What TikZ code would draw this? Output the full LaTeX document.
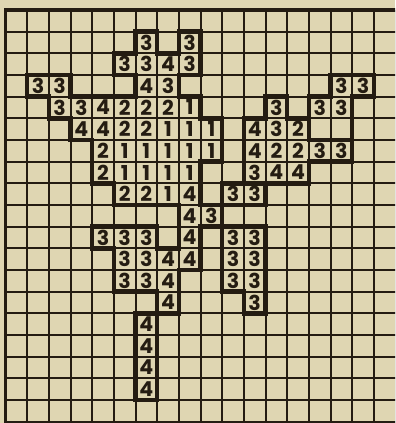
\documentclass[tikz,border=0pt]{standalone}
\usepackage{fontspec}
\newfontfamily\numfont{Poppins}
\definecolor{paper}{RGB}{223,214,178}
\definecolor{ink}{RGB}{36,28,18}
\begin{document}
\begin{tikzpicture}[yscale=-1, x=1cm, y=1cm,
  gridline/.style={ink, line width=2.6pt},
  border/.style={ink, line width=4.5pt},
  outline/.style={ink, line width=5.8pt, line join=miter, line cap=rect},
  num/.style={font=\numfont\bfseries\fontsize{27}{27}\selectfont, text=ink, inner sep=0pt}]
\fill[paper] (-0.254,-0.46) rectangle (17.975,19.06);
\useasboundingbox (-0.254,-0.46) rectangle (17.975,19.06);
\begin{scope}
\clip (-0.254,-0.46) rectangle (17.975,19.06);
\foreach \x in {1,...,18} \draw[gridline] (\x,0) -- (\x,19.2);
\foreach \y in {1,...,19} \draw[gridline] (0,\y) -- (18.2,\y);
\draw[border] (0,19.2) -- (0,0) -- (18.2,0);
% outlines
\draw[outline] (6,1) -- (7,1) -- (7,2) -- (8,2) -- (8,1) -- (9,1) -- (9,3) -- (8,3) -- (8,4) -- (9,4) -- (9,5) -- (10,5) -- (10,7) -- (9,7) -- (9,9) -- (10,9) -- (10,10) -- (9,10) -- (9,12) -- (8,12) -- (8,14) -- (7,14) -- (7,18) -- (6,18) -- (6,14) -- (7,14) -- (7,13) -- (5,13) -- (5,11) -- (4,11) -- (4,10) -- (7,10) -- (7,11) -- (8,11) -- (8,9) -- (5,9) -- (5,8) -- (4,8) -- (4,6) -- (3,6) -- (3,5) -- (2,5) -- (2,4) -- (1,4) -- (1,3) -- (3,3) -- (3,4) -- (6,4) -- (6,3) -- (5,3) -- (5,2) -- (6,2) -- cycle;
\draw[outline] (15,3) -- (17,3) -- (17,4) -- (16,4) -- (16,7) -- (14,7) -- (14,8) -- (11,8) -- (11,5) -- (12,5) -- (12,4) -- (13,4) -- (13,5) -- (14,5) -- (14,4) -- (15,4) -- cycle;
\draw[outline] (14,5) -- (14,6) -- (16,6);
\draw[outline] (10,8) rectangle (12,9);
\draw[outline] (10,10) -- (12,10) -- (12,14) -- (11,14) -- (11,13) -- (10,13) -- cycle;
\end{scope}
% numbers
\foreach \c/\r/\d in {6/1/3, 8/1/3,
  5/2/3, 6/2/3, 7/2/4, 8/2/3,
  1/3/3, 2/3/3, 6/3/4, 7/3/3, 15/3/3, 16/3/3,
  2/4/3, 3/4/3, 4/4/4, 5/4/2, 6/4/2, 7/4/2, 8/4/1, 12/4/3, 14/4/3, 15/4/3,
  3/5/4, 4/5/4, 5/5/2, 6/5/2, 7/5/1, 8/5/1, 9/5/1, 11/5/4, 12/5/3, 13/5/2,
  4/6/2, 5/6/1, 6/6/1, 7/6/1, 8/6/1, 9/6/1, 11/6/4, 12/6/2, 13/6/2, 14/6/3, 15/6/3,
  4/7/2, 5/7/1, 6/7/1, 7/7/1, 8/7/1, 11/7/3, 12/7/4, 13/7/4,
  5/8/2, 6/8/2, 7/8/1, 8/8/4, 10/8/3, 11/8/3,
  8/9/4, 9/9/3,
  4/10/3, 5/10/3, 6/10/3, 8/10/4, 10/10/3, 11/10/3,
  5/11/3, 6/11/3, 7/11/4, 8/11/4, 10/11/3, 11/11/3,
  5/12/3, 6/12/3, 7/12/4, 10/12/3, 11/12/3,
  7/13/4, 11/13/3,
  6/14/4, 6/15/4, 6/16/4, 6/17/4}
  \node[num] (n-\c-\r) at (\c+0.5,\r+0.5) {\d};
\end{tikzpicture}
\end{document}
